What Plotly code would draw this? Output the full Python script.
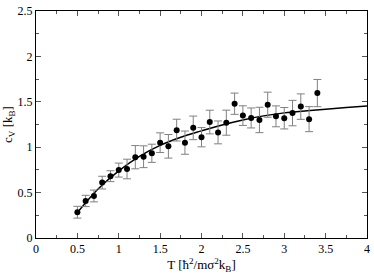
import plotly.graph_objects as go

T = [0.5, 0.6, 0.7, 0.8, 0.9, 1.0, 1.1, 1.2, 1.3, 1.4, 1.5, 1.6, 1.7, 1.8, 1.9, 2.0,
     2.1, 2.2, 2.3, 2.4, 2.5, 2.6, 2.7, 2.8, 2.9, 3.0, 3.1, 3.2, 3.3, 3.4]
cv = [0.284, 0.408, 0.463, 0.61, 0.681, 0.748, 0.76, 0.89, 0.895, 0.933, 1.05, 1.01,
      1.188, 1.05, 1.213, 1.11, 1.277, 1.163, 1.27, 1.479, 1.348, 1.322, 1.30, 1.468,
      1.34, 1.319, 1.376, 1.447, 1.309, 1.596]
err = [0.065, 0.062, 0.065, 0.07, 0.06, 0.077, 0.108, 0.128, 0.12, 0.1, 0.108, 0.13,
       0.12, 0.128, 0.13, 0.106, 0.13, 0.126, 0.138, 0.117, 0.108, 0.11, 0.14, 0.138,
       0.115, 0.118, 0.14, 0.14, 0.138, 0.15]

fit_T = [0.5, 0.75, 1.0, 1.25, 1.5, 1.75, 2.0, 2.25, 2.5, 2.75, 3.0, 3.25, 3.5, 3.75, 4.0]
fit_cv = [0.28, 0.54, 0.74, 0.90, 1.02, 1.11, 1.18, 1.245, 1.30, 1.345, 1.378, 1.40,
          1.418, 1.437, 1.454]

xticks = [0, 0.5, 1, 1.5, 2, 2.5, 3, 3.5, 4]
xticklabels = ["0", "0.5", "1", "1.5", "2", "2.5", "3", "3.5", "4"]
yticks = [0, 0.5, 1, 1.5, 2, 2.5]
yticklabels = ["0", "0.5", "1", "1.5", "2", "2.5"]

font = "Liberation Serif, Times New Roman, serif"

fig = go.Figure()
fig.add_trace(go.Scatter(
    x=fit_T, y=fit_cv, mode="lines", line=dict(color="black", width=1.5, shape="spline"),
    showlegend=False, hoverinfo="skip"))
fig.add_trace(go.Scatter(
    x=T, y=cv, mode="markers",
    marker=dict(color="black", size=6),
    error_y=dict(type="data", array=err, visible=True, color="#808080", thickness=1, width=4),
    showlegend=False))

axis_common = dict(
    showgrid=False, zeroline=False, showline=True, linecolor="black", linewidth=1,
    mirror="allticks", ticks="inside", ticklen=5, tickwidth=1, tickcolor="#555",
    tickfont=dict(family=font, size=12, color="black"), ticklabeloverflow="allow",
)
fig.update_xaxes(
    range=[0, 4], tickvals=xticks, ticktext=xticklabels,
    minor=dict(ticks="inside", ticklen=3, dtick=0.25, tickcolor="#555"),
    title=dict(text="T [ħ<sup>2</sup>/mσ<sup>2</sup>k<sub>B</sub>]", font=dict(family=font, size=13, color="black"), standoff=4),
    **axis_common)
fig.update_yaxes(
    range=[0, 2.5], tickvals=yticks, ticktext=yticklabels,
    minor=dict(ticks="inside", ticklen=3, dtick=0.25, tickcolor="#555"),
    title=dict(text="c<sub>V</sub> [k<sub>B</sub>]", font=dict(family=font, size=13, color="black"), standoff=4),
    **axis_common)

fig.update_layout(
    width=374, height=274,
    margin=dict(l=36, r=4, t=4, b=35),
    paper_bgcolor="white", plot_bgcolor="white",
)
fig.write_html("out.html", config={"displayModeBar": False},
               post_script="document.body.style.margin='0';document.body.style.overflow='hidden';")
